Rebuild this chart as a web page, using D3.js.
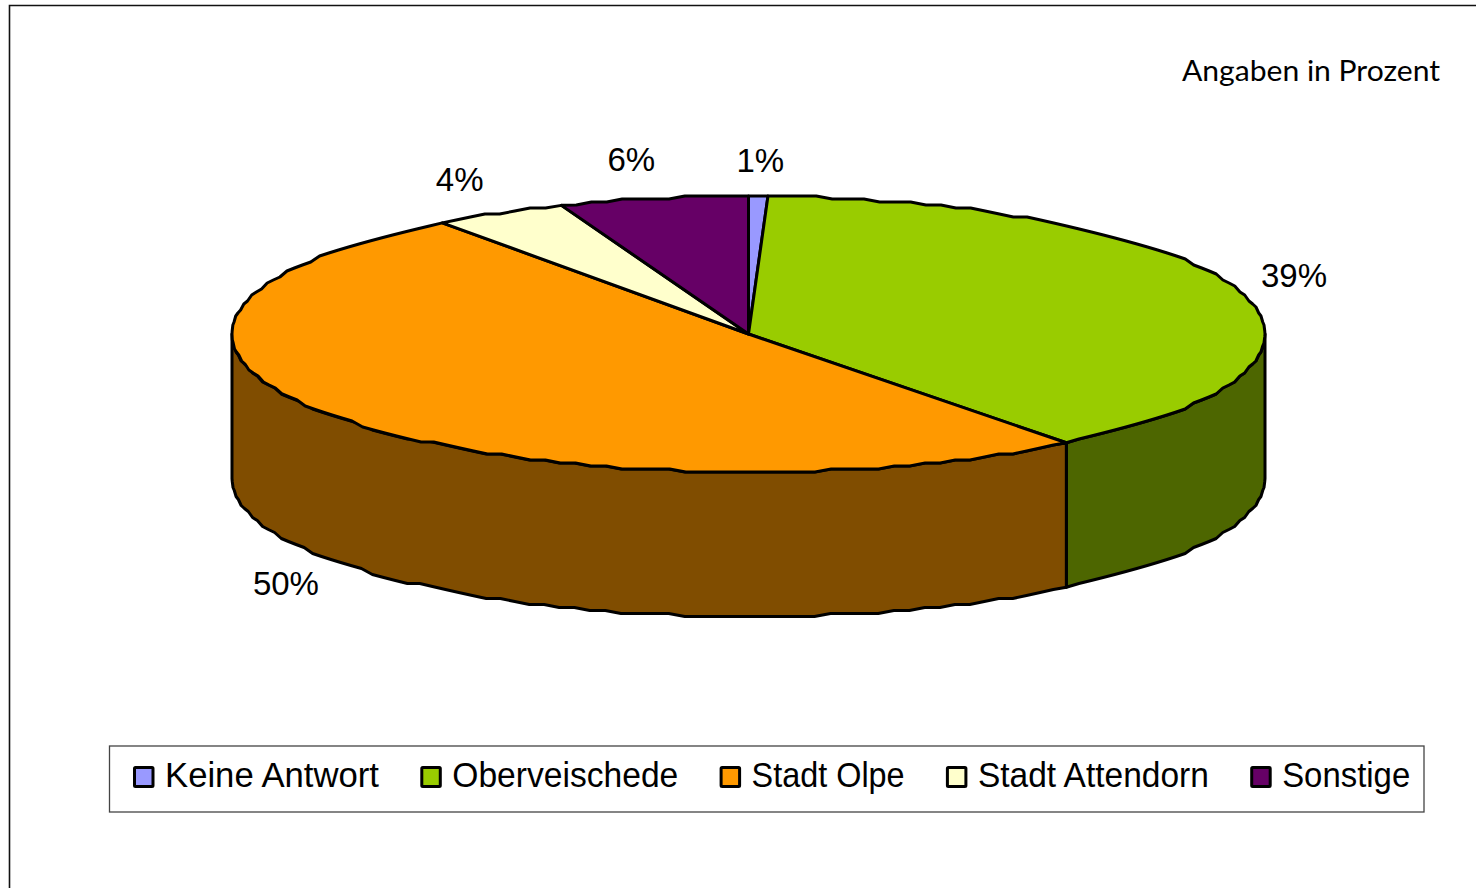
<!DOCTYPE html>
<html lang="de">
<head>
<meta charset="utf-8">
<script src="https://cdn.jsdelivr.net/npm/d3@7/dist/d3.min.js"></script>
<style>
html,body{margin:0;padding:0;background:#fff;overflow:hidden}
svg{display:block}
text{font-family:"Liberation Sans",Arial,sans-serif;fill:#000}
</style>
</head>
<body>
<svg id="chart" width="1476" height="888"></svg>
<script>
const categories = ["Keine Antwort","Oberveischede","Stadt Olpe","Stadt Attendorn","Sonstige"];
const values = [0.6,38.85,50.45,4.2,5.9];
const colors = ["#9999FF","#99CC00","#FF9900","#FFFFCC","#660066"];
const sideColors = ["#4D4D80","#4D6600","#804D00","#808066","#330033"];
const note = "Angaben in Prozent";

// layout only
const W = 1476, H = 888;
const C = {x:748.5, y:334, rx:516.5, ry:138, depth:144.5};
const labelOffsets = [[2,-24],[54,-5],[-51,33],[-40,-22],[-22,-27]];
const legendBox = {x:109.5, y:746, w:1314.5, h:66};
const legendTextWidths = [214,226,153,231,128];

const svg = d3.select("#chart");
svg.append("rect").attr("width",W).attr("height",H).attr("fill","#fff");
svg.append("path").attr("d",`M${W},5.5H9.5V${H}`).attr("fill","none").attr("stroke","#111").attr("stroke-width",1.6);

const pie = d3.pie().sort(null).value(d=>d)(values);
const px = d3.scaleLinear().domain([-1,1]).range([C.x-C.rx,C.x+C.rx]);
const py = d3.scaleLinear().domain([-1,1]).range([C.y-C.ry,C.y+C.ry]);
const grid = 3, step = Math.PI/100;
function pt(a,snap){
  let x = px(Math.sin(a)), y = py(-Math.cos(a));
  if(snap){ y = C.y + Math.round((y-C.y)/grid)*grid; }
  return [x,y];
}
function rim(a0,a1){
  const pts=[pt(a0,false)];
  const n=Math.max(1,Math.round((a1-a0)/step));
  for(let i=1;i<n;i++){pts.push(pt(a0+(a1-a0)*i/n,true));}
  pts.push(pt(a1,false));
  return pts;
}
const line = d3.line();
const center=[C.x,C.y];

// side walls: only the front half (angles from PI/2 to 3PI/2) is visible
pie.forEach((s,i)=>{
  const a0=Math.max(s.startAngle,Math.PI/2), a1=Math.min(s.endAngle,Math.PI*1.5);
  if(a1<=a0) return;
  const top=rim(a0,a1);
  const bottom=top.map(p=>[p[0],p[1]+C.depth]).reverse();
  svg.append("path").attr("d",line(top.concat(bottom))+"Z")
    .attr("fill",sideColors[i]).attr("stroke","#000").attr("stroke-width",3).attr("stroke-linejoin","round");
});
// top faces
pie.forEach((s,i)=>{
  svg.append("path").attr("d",line([center].concat(rim(s.startAngle,s.endAngle)))+"Z")
    .attr("fill",colors[i]).attr("stroke","#000").attr("stroke-width",3).attr("stroke-linejoin","round");
});
// percent labels
pie.forEach((s,i)=>{
  const mid=(s.startAngle+s.endAngle)/2;
  const p=pt(mid,false);
  const front=mid>Math.PI/2&&mid<Math.PI*1.5;
  svg.append("text")
    .attr("x",p[0]+labelOffsets[i][0])
    .attr("y",p[1]+(front?C.depth:0)+labelOffsets[i][1])
    .attr("text-anchor","middle").attr("font-size",33)
    .text(d3.format(".0f")(values[i])+"%");
});
// note
svg.append("text").attr("x",1182).attr("y",81)
  .attr("textLength",258).attr("lengthAdjust","spacingAndGlyphs")
  .style("font-family","Lato, sans-serif").attr("font-size",28).text(note);
// legend
svg.append("rect").attr("x",legendBox.x).attr("y",legendBox.y).attr("width",legendBox.w).attr("height",legendBox.h)
  .attr("fill","#fff").attr("stroke","#444").attr("stroke-width",1.3);
let lx=134.5;
categories.forEach((c,i)=>{
  svg.append("rect").attr("x",lx).attr("y",767.5).attr("width",18.5).attr("height",19)
    .attr("fill",colors[i]).attr("stroke","#000").attr("stroke-width",3).attr("rx",1);
  svg.append("text").attr("x",lx+30.5).attr("y",787)
    .attr("font-size",35).attr("textLength",legendTextWidths[i]).attr("lengthAdjust","spacingAndGlyphs").text(c);
  lx+=30.5+legendTextWidths[i]+42.8;
});
</script>
</body>
</html>
